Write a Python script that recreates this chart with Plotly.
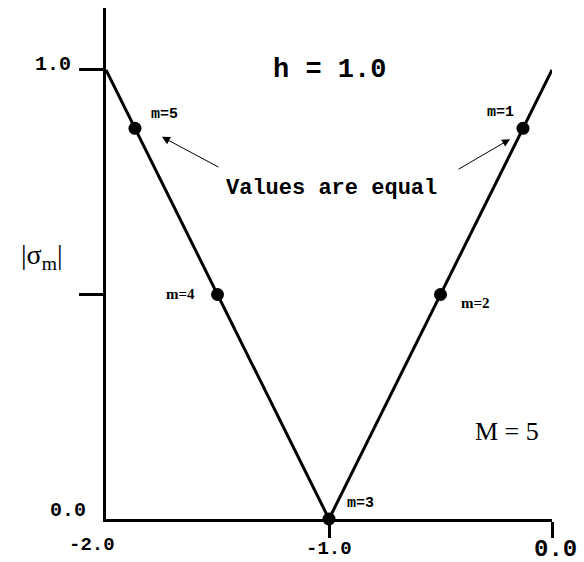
import plotly.graph_objects as go

# |sigma_m| against lambda*h for h = 1.0: the two branches meet at -1.0
curve_x = [-2.0, -1.0, 0.0]
curve_y = [1.0, 0.0, 1.0]

# eigenvalue points, m = 1..5
mode_labels = ["m=1", "m=2", "m=3", "m=4", "m=5"]
mode_x = [-0.13, -0.5, -1.0, -1.5, -1.87]
mode_y = [0.87, 0.5, 0.0, 0.5, 0.87]

# axis ticks and their labels
x_tick_vals = [-1.0, 0.0]
y_tick_vals = [0.5, 1.0]
x_label_vals = [-2.0, -1.0, 0.0]
x_label_text = ["-2.0", "-1.0", "0.0"]
y_label_vals = [0.0, 1.0]
y_label_text = ["0.0", "1.0"]

MONO = "Liberation Mono"
SERIF = "Liberation Serif"

fig = go.Figure()
fig.add_trace(go.Scatter(
    x=curve_x, y=curve_y, mode="lines",
    line=dict(color="black", width=3),
    cliponaxis=False, hoverinfo="skip", showlegend=False,
))
fig.add_trace(go.Scatter(
    x=mode_x, y=mode_y, mode="markers",
    marker=dict(color="black", size=13),
    cliponaxis=False, showlegend=False,
))

annotations = []

# per-point label placement (pixel offsets from the marker) and font
label_style = {
    "m=1": dict(xshift=-23, yshift=16, family=MONO),
    "m=2": dict(xshift=35, yshift=-9, family=SERIF),
    "m=3": dict(xshift=31, yshift=16, family=MONO),
    "m=4": dict(xshift=-37, yshift=0, family=SERIF),
    "m=5": dict(xshift=30, yshift=14, family=MONO),
}
for lab, x, y in zip(mode_labels, mode_x, mode_y):
    st = label_style[lab]
    annotations.append(dict(
        x=x, y=y, xref="x", yref="y", text=f"<b>{lab}</b>", showarrow=False,
        xshift=st["xshift"], yshift=st["yshift"],
        font=dict(family=st["family"], size=15, color="black"),
    ))

# y-axis labels
for v, t, xs, ys in zip(y_label_vals, y_label_text, [-18, -33], [9, 5]):
    annotations.append(dict(
        x=-2.0, y=v, xref="x", yref="y", text=f"<b>{t}</b>", showarrow=False,
        xanchor="right", xshift=xs, yshift=ys,
        font=dict(family=MONO, size=20, color="black"),
    ))

# x-axis labels
x_label_shift = [(-14, -26, 19), (0, -30, 19), (3, -30, 24)]
for v, t, (xs, ys, sz) in zip(x_label_vals, x_label_text, x_label_shift):
    annotations.append(dict(
        x=v, y=0.0, xref="x", yref="y", text=f"<b>{t}</b>", showarrow=False,
        xshift=xs, yshift=ys, borderpad=0,
        font=dict(family=MONO, size=sz, color="black"),
    ))

# axis title
annotations.append(dict(
    x=-0.195, y=0.585, xref="paper", yref="y", text="|σ<sub>m</sub>|",
    showarrow=False, font=dict(family=SERIF, size=28, color="black"),
))

# headings inside the plot
annotations.append(dict(
    x=-0.996, y=1.0, xref="x", yref="y", text="<b>h = 1.0</b>",
    showarrow=False, font=dict(family=MONO, size=27, color="black"),
))
annotations.append(dict(
    x=-0.987, y=0.737, xref="x", yref="y", text="<b>Values are equal</b>",
    showarrow=False, font=dict(family=MONO, size=22, color="black"),
))
annotations.append(dict(
    x=-0.202, y=0.194, xref="x", yref="y", text="M = 5",
    showarrow=False, font=dict(family=SERIF, size=26, color="black"),
))

# arrows pointing at the two equal-magnitude points
for hx, hy, tx, ty in [(-1.749, 0.851, -1.489, 0.782), (-0.188, 0.846, -0.426, 0.777)]:
    annotations.append(dict(
        x=hx, y=hy, ax=tx, ay=ty, xref="x", yref="y", axref="x", ayref="y",
        text="", showarrow=True, arrowhead=2, arrowsize=1.6, arrowwidth=1,
        arrowcolor="black",
    ))

fig.update_layout(
    width=584, height=562,
    margin=dict(l=106, r=32, t=8, b=43),
    paper_bgcolor="white", plot_bgcolor="white",
    annotations=annotations,
    xaxis=dict(
        range=[-2.0, 0.0], showgrid=False, zeroline=False,
        showline=True, linewidth=3, linecolor="black",
        ticks="outside", tickvals=x_tick_vals, ticklen=16, tickwidth=3,
        tickcolor="black", showticklabels=False,
    ),
    yaxis=dict(
        range=[0.0, 1.138], showgrid=False, zeroline=False,
        showline=True, linewidth=3, linecolor="black",
        ticks="outside", tickvals=y_tick_vals, ticklen=24, tickwidth=3,
        tickcolor="black", showticklabels=False,
    ),
)

fig.write_html("out.html")
